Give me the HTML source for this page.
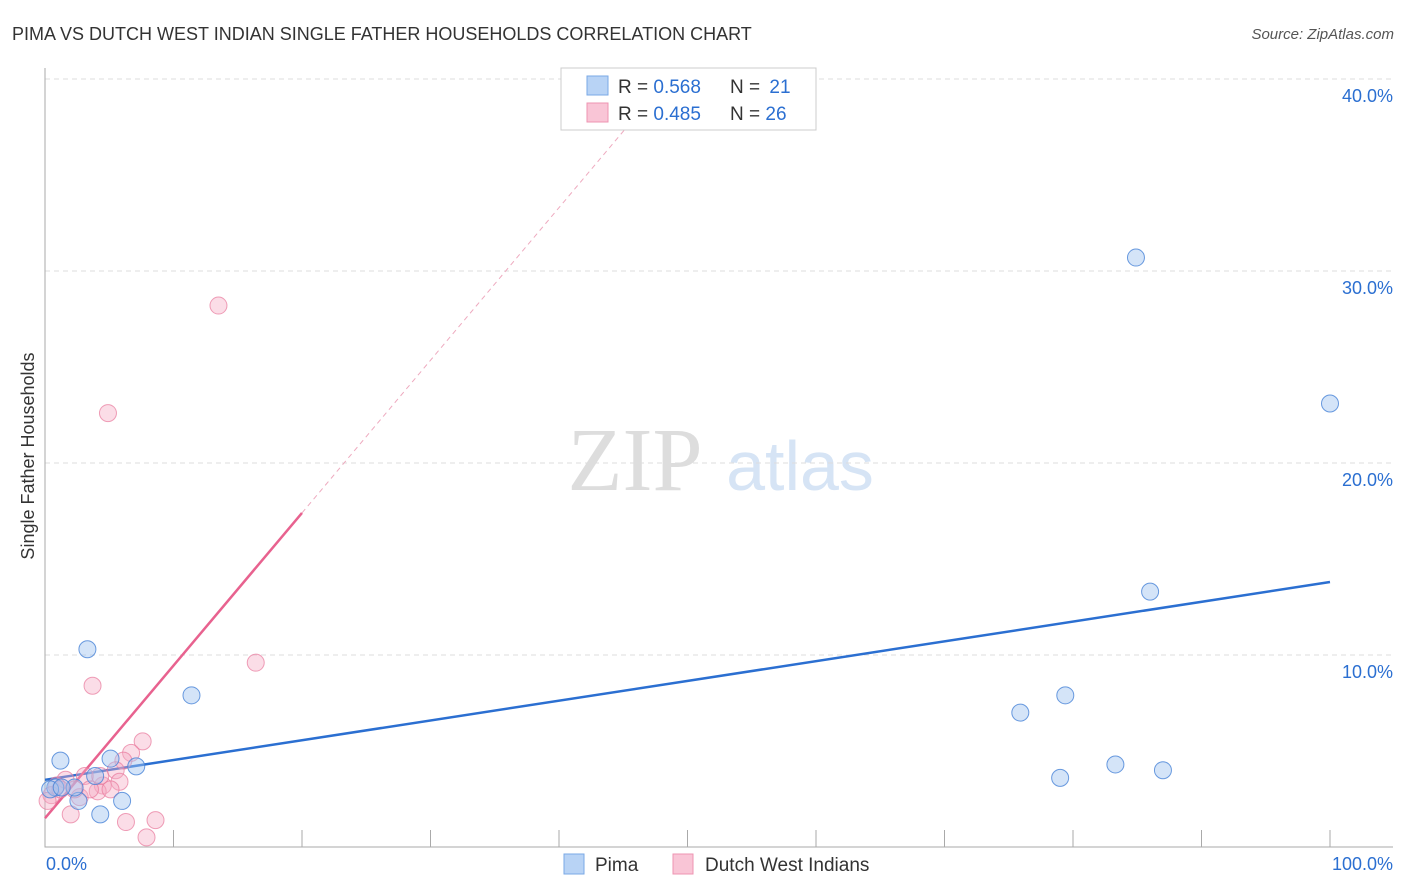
<!DOCTYPE html>
<html><head><meta charset="utf-8"><style>
body{margin:0;background:#fff;font-family:"Liberation Sans",sans-serif;}
svg{display:block}
</style></head><body>
<svg id="chart" width="1406" height="892" xmlns="http://www.w3.org/2000/svg">
<text x="12" y="40" font-size="18" fill="#333">PIMA VS DUTCH WEST INDIAN SINGLE FATHER HOUSEHOLDS CORRELATION CHART</text>
<text x="1394" y="39" font-size="15" fill="#555" font-style="italic" text-anchor="end">Source: ZipAtlas.com</text>
<g>
<text x="635" y="490" font-size="90" fill="#ddd" font-family="Liberation Serif,serif" text-anchor="middle">ZIP</text>
<text x="800" y="490" font-size="70" fill="#d6e4f5" text-anchor="middle">atlas</text>
</g>
<g id="grid"></g>
<g id="axes"></g>
<text transform="translate(34,456) rotate(-90)" font-size="18" fill="#333" text-anchor="middle">Single Father Households</text>
<g id="lines"></g>
<g id="points"></g>
<g>
<rect x="561" y="68" width="255" height="62" fill="#fff" stroke="#ccc"/>
<rect x="587" y="76" width="21" height="19" fill="#b8d3f5" stroke="#7aa8e6"/>
<rect x="587" y="103" width="21" height="19" fill="#f9c5d6" stroke="#ee94b2"/>
<text x="618" y="93" font-size="19" fill="#333">R = <tspan fill="#2b6fd1">0.568</tspan></text>
<text x="730" y="93" font-size="19" fill="#333">N = <tspan fill="#2b6fd1" dx="4">21</tspan></text>
<text x="618" y="120" font-size="19" fill="#333">R = <tspan fill="#2b6fd1">0.485</tspan></text>
<text x="730" y="120" font-size="19" fill="#333">N = <tspan fill="#2b6fd1">26</tspan></text>
</g>
<g>
<rect x="564" y="854" width="20" height="20" fill="#b8d3f5" stroke="#7aa8e6"/>
<text x="595" y="871" font-size="19" fill="#333">Pima</text>
<rect x="673" y="854" width="20" height="20" fill="#f9c5d6" stroke="#ee94b2"/>
<text x="705" y="871" font-size="19" fill="#333">Dutch West Indians</text>
</g>
</svg>
<script>
const yTicks=[10,20,30,40];
const yTickLabels=["10.0%","20.0%","30.0%","40.0%"];
const xTickLabels=["0.0%","100.0%"];
const pimaX=[3.3,11.4,1.2,5.1,7.1,6.0,4.3,3.9,2.6,0.8,2.3,84.9,100,86,75.9,79.4,79,83.3,87,0.4,1.3];
const pimaY=[10.3,7.9,4.5,4.6,4.2,2.4,1.7,3.7,2.4,3.1,3.1,30.7,23.1,13.3,7.0,7.9,3.6,4.3,4.0,3.0,3.1];
const dutchX=[13.5,4.9,16.4,3.7,7.6,6.7,6.1,5.5,5.8,4.5,4.1,3.1,1.6,0.9,0.5,0.2,2.0,6.3,8.6,7.9,2.7,3.5,1.2,5.1,2.3,4.3];
const dutchY=[28.2,22.6,9.6,8.4,5.5,4.9,4.5,4.0,3.4,3.2,2.9,3.7,3.5,3.2,2.7,2.4,1.7,1.3,1.4,0.5,2.6,3.0,3.0,3.0,3.0,3.7];
const pimaTrend=[3.5,13.8];
const dutchTrend=[1.5,17.4];
const NS="http://www.w3.org/2000/svg";
const xs=v=>45+v*12.85, ys=v=>847-v*19.2;
function mk(t,a,p){const e=document.createElementNS(NS,t);for(const k in a)e.setAttribute(k,a[k]);document.getElementById(p).appendChild(e);return e;}
yTicks.forEach((t,i)=>{
 const g=mk('line',{x1:45,x2:1393,y1:ys(t),y2:ys(t),stroke:'#ddd','stroke-dasharray':'5,4'},'grid');
 
 
 const l=mk('text',{x:1393,y:ys(t)+23,'font-size':18,fill:'#2b6fd1','text-anchor':'end'},'axes');
 l.textContent=yTickLabels[i];
 
 
});
const ax=mk('path',{d:'M45,68V847H1393',stroke:'#aaa',fill:'none'},'axes');


for(let i=1;i<=10;i++){
 const t=mk('line',{x1:xs(i*10),x2:xs(i*10),y1:830,y2:847,stroke:'#aaa'},'axes');
 
 
}
[[0,'start',46],[100,'end',1393]].forEach((d,i)=>{
 const l=mk('text',{x:d[2],y:870,'font-size':18,fill:'#2b6fd1','text-anchor':d[1]},'axes');
 l.textContent=xTickLabels[i];
 
 
});
const pl=mk('line',{x1:xs(0),y1:ys(pimaTrend[0]),x2:xs(100),y2:ys(pimaTrend[1]),stroke:'#2b6fd1','stroke-width':2.5},'lines');


const slope=(dutchTrend[1]-dutchTrend[0])/20;
const dl=mk('line',{x1:xs(0),y1:ys(dutchTrend[0]),x2:xs(20),y2:ys(dutchTrend[1]),stroke:'#e8628f','stroke-width':2.5},'lines');


const xe=(40.6-dutchTrend[0])/slope;
const dd=mk('line',{x1:xs(20),y1:ys(dutchTrend[1]),x2:xs(xe),y2:ys(dutchTrend[0]+slope*xe),stroke:'#eeaabf','stroke-width':1,'stroke-dasharray':'5,4'},'lines');


dutchX.forEach((x,i)=>{
 const c=mk('circle',{cx:xs(x),cy:ys(dutchY[i]),r:8.5,fill:'rgba(246,170,195,0.4)',stroke:'rgba(232,120,155,0.7)'},'points');
 
 
});
pimaX.forEach((x,i)=>{
 const c=mk('circle',{cx:xs(x),cy:ys(pimaY[i]),r:8.5,fill:'rgba(160,195,240,0.45)',stroke:'rgba(70,130,215,0.8)'},'points');
 
 
});
</script>
</body></html>
